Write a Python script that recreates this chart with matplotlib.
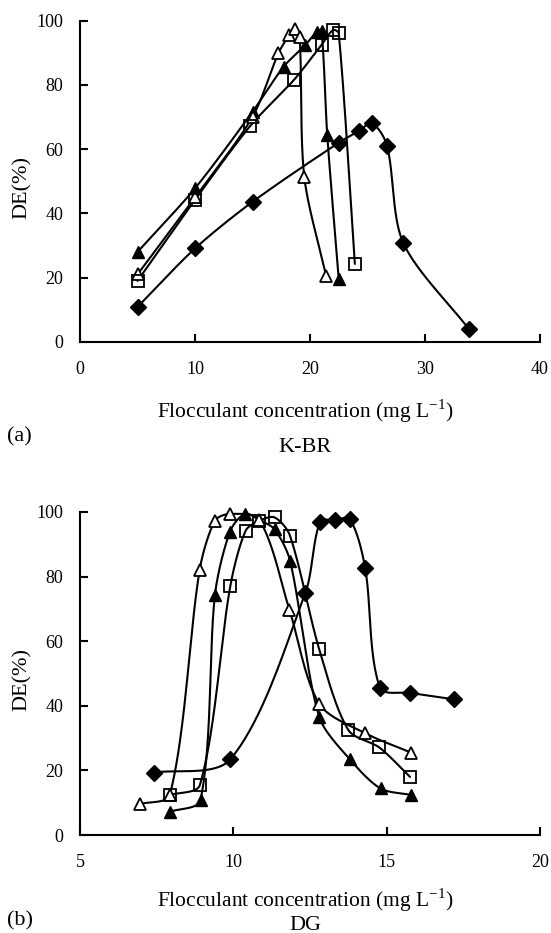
import numpy as np
import matplotlib
matplotlib.use("Agg")
import matplotlib.pyplot as plt

plt.rcParams["font.family"] = ["Liberation Serif", "DejaVu Serif"]
plt.rcParams["mathtext.fontset"] = "custom"
plt.rcParams["mathtext.rm"] = "Liberation Serif"

# ---- (a) K-BR ----
a_dia_x = [5, 10, 15, 22.5, 24.3, 25.4, 26.7, 28.1, 33.8]
a_dia_y = [10.9, 29.1, 43.6, 62.0, 65.7, 68.0, 61.0, 30.9, 4.1]
a_tri_x = [5, 10, 15, 17.7, 19.6, 20.6, 21.0, 21.5, 22.5]
a_tri_y = [28.0, 47.8, 71.6, 85.6, 92.4, 96.5, 96.8, 64.4, 19.5]
a_otri_x = [5, 10, 15, 17.25, 18.2, 18.7, 19.1, 19.5, 21.4]
a_otri_y = [21.0, 45.0, 70.0, 89.8, 95.5, 97.5, 95.0, 51.4, 20.5]
a_sq_x = [5, 10, 14.8, 18.6, 21.0, 22.0, 22.5, 23.9]
a_sq_y = [19.0, 44.2, 67.2, 81.5, 92.4, 97.0, 96.0, 24.3]

# ---- (b) DG ----
b_dia_x = [7.4, 9.9, 12.35, 12.83, 13.3, 13.8, 14.3, 14.78, 15.76, 17.2]
b_dia_y = [19.3, 23.4, 75.0, 97.0, 97.5, 97.8, 82.6, 45.6, 44.0, 42.0]
b_tri_x = [7.93, 8.93, 9.4, 9.89, 10.38, 10.85, 11.35, 11.85, 12.8, 13.8, 14.8, 15.8]
b_tri_y = [7.2, 10.8, 74.3, 93.9, 99.4, 97.5, 94.6, 84.9, 36.6, 23.4, 14.4, 12.4]
b_otri_x = [6.95, 7.93, 8.9, 9.4, 9.88, 10.85, 11.83, 12.8, 14.3, 15.8]
b_otri_y = [9.6, 12.4, 82.0, 97.3, 99.4, 97.5, 69.7, 40.6, 31.5, 25.5]
b_sq_x = [7.93, 8.91, 9.9, 10.4, 10.85, 11.35, 11.85, 12.8, 13.75, 14.76, 15.76]
b_sq_y = [12.4, 15.5, 77.0, 94.2, 97.3, 98.3, 92.6, 57.5, 32.5, 27.1, 18.0]

W_IN, H_IN = 5.51, 9.33
fig = plt.figure(figsize=(W_IN, H_IN), dpi=100)

ax_a = fig.add_axes([80 / 551, 1 - 342 / 933, 460 / 551, 321.5 / 933])
ax_b = fig.add_axes([80 / 551, 1 - 835 / 933, 460 / 551, 323 / 933])


def smooth(ax, xs, ys, xlim, ylim, n=40, s=0.85):
    """Bezier smoothing with tangent lengths tied to each segment (screen space)."""
    bb = ax.get_position()
    wpx = bb.width * W_IN
    hpx = bb.height * H_IN
    px = (np.asarray(xs, float) - xlim[0]) / (xlim[1] - xlim[0]) * wpx
    py = (np.asarray(ys, float) - ylim[0]) / (ylim[1] - ylim[0]) * hpx
    P = np.column_stack([px, py])
    m = len(P)
    D = np.zeros_like(P)
    for i in range(m):
        a = P[max(i - 1, 0)]
        b = P[min(i + 1, m - 1)]
        v = b - a
        D[i] = v / (np.linalg.norm(v) + 1e-12)
    out = [P[0]]
    t = np.linspace(0, 1, n)[1:, None]
    for i in range(m - 1):
        p1, p2 = P[i], P[i + 1]
        L = np.linalg.norm(p2 - p1)
        c1 = p1 + D[i] * L * s / 3.0
        c2 = p2 - D[i + 1] * L * s / 3.0
        seg = ((1 - t) ** 3) * p1 + 3 * ((1 - t) ** 2) * t * c1 + 3 * (1 - t) * t ** 2 * c2 + t ** 3 * p2
        out.extend(seg)
    out = np.array(out)
    sx = out[:, 0] / wpx * (xlim[1] - xlim[0]) + xlim[0]
    sy = out[:, 1] / hpx * (ylim[1] - ylim[0]) + ylim[0]
    return sx, sy


styles = {
    "dia": dict(marker="D", ms=8.5, mfc="black", mec="black", mew=1.0),
    "tri": dict(marker="^", ms=9, mfc="black", mec="black", mew=1.0),
    "otri": dict(marker="^", ms=9, mfc="white", mec="black", mew=1.3),
    "sq": dict(marker="s", ms=8, mfc="none", mec="black", mew=1.3),
}


def draw_panel(ax, series, xlim, xticks):
    ylim = (0, 100)
    ax.set_xlim(*xlim)
    ax.set_ylim(*ylim)
    for key, xs, ys in series:
        sx, sy = smooth(ax, xs, ys, xlim, ylim)
        ax.plot(sx, sy, color="black", lw=1.5, zorder=2, solid_capstyle="round")
    for key, xs, ys in series:
        ax.plot(xs, ys, ls="none", zorder=3, clip_on=False, **styles[key])
    ax.set_xticks(xticks)
    ax.set_yticks([0, 20, 40, 60, 80, 100])
    for s in ("top", "right"):
        ax.spines[s].set_visible(False)
    for s in ("left", "bottom"):
        ax.spines[s].set_linewidth(1.5)
    ax.tick_params(direction="in", length=6, width=1.5, labelsize=13, pad=14)
    ax.tick_params(axis="y", pad=12)
    ax.set_ylabel("DE(%)", fontsize=16)
    ax.yaxis.set_label_coords(-0.104, 0.48)


draw_panel(
    ax_a,
    [("dia", a_dia_x, a_dia_y), ("tri", a_tri_x, a_tri_y),
     ("otri", a_otri_x, a_otri_y), ("sq", a_sq_x, a_sq_y)],
    (0, 40), [0, 10, 20, 30, 40],
)
draw_panel(
    ax_b,
    [("dia", b_dia_x, b_dia_y), ("tri", b_tri_x, b_tri_y),
     ("otri", b_otri_x, b_otri_y), ("sq", b_sq_x, b_sq_y)],
    (5, 20), [5, 10, 15, 20],
)

xlabel = r"Flocculant concentration (mg L$^{\mathregular{-1}}$)"
cx = 305 / 551
fig.text(cx, 1 - 411 / 933, xlabel, ha="center", va="center", fontsize=15.5)
fig.text(cx, 1 - 447 / 933, "K-BR", ha="center", va="center", fontsize=16)
fig.text(7 / 551, 1 - 437 / 933, "(a)", ha="left", va="center", fontsize=16)

fig.text(cx, 1 - 900 / 933, xlabel, ha="center", va="center", fontsize=15.5)
fig.text(cx, 1 - 925 / 933, "DG", ha="center", va="center", fontsize=16)
fig.text(7 / 551, 1 - 921 / 933, "(b)", ha="left", va="center", fontsize=16)

fig.savefig("out.png", dpi=100)
